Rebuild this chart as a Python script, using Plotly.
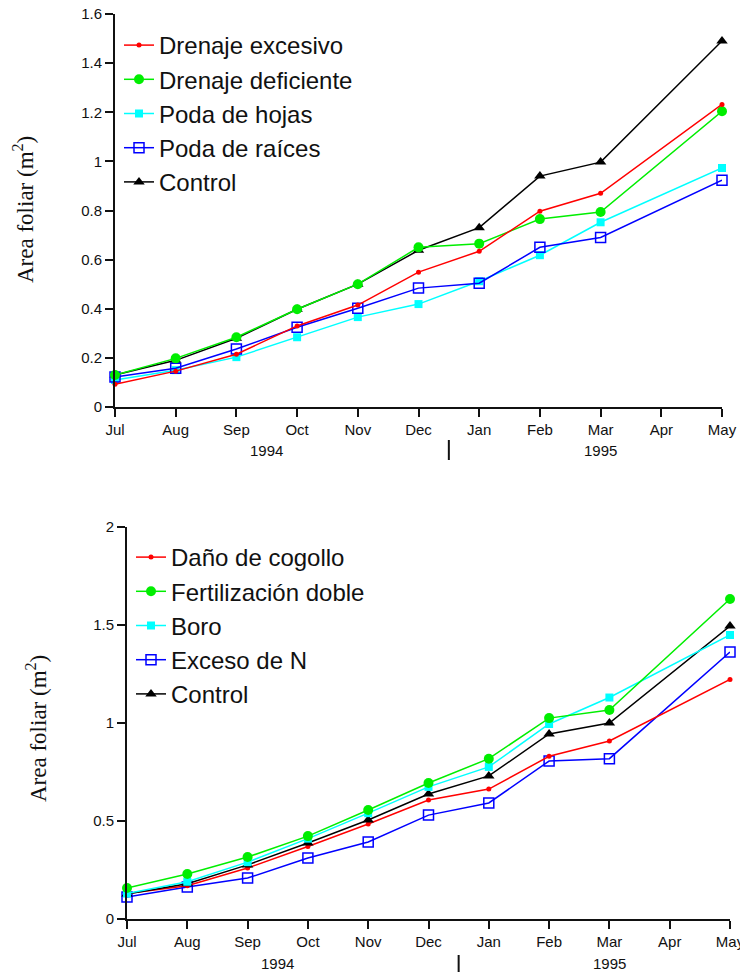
import plotly.graph_objects as go

months = ["Jul", "Aug", "Sep", "Oct", "Nov", "Dec", "Jan", "Feb", "Mar", "Apr", "May"]
years = ["1994", "1995"]

# Top chart series (None = no measurement in April)
drenaje_excesivo = [0.093, 0.146, 0.215, 0.33, 0.415, 0.549, 0.634, 0.797, 0.87, None, 1.232]
drenaje_deficiente = [0.13, 0.198, 0.284, 0.398, 0.5, 0.65, 0.665, 0.765, 0.794, None, 1.204]
poda_hojas = [0.11, 0.15, 0.203, 0.284, 0.366, 0.419, 0.512, 0.618, 0.752, None, 0.973]
poda_raices = [0.122, 0.158, 0.236, 0.325, 0.402, 0.484, 0.504, 0.65, 0.69, None, 0.923]
control_top = [0.13, 0.19, 0.28, 0.398, 0.5, 0.638, 0.73, 0.94, 0.997, None, 1.49]

# Bottom chart series
dano_cogollo = [0.13, 0.17, 0.26, 0.37, 0.485, 0.607, 0.663, 0.83, 0.908, None, 1.222]
fert_doble = [0.158, 0.23, 0.316, 0.423, 0.556, 0.694, 0.818, 1.025, 1.066, None, 1.633]
boro = [0.13, 0.19, 0.29, 0.41, 0.54, 0.674, 0.776, 0.995, 1.13, None, 1.449]
exceso_n = [0.112, 0.163, 0.209, 0.311, 0.393, 0.53, 0.592, 0.806, 0.818, None, 1.362]
control_bot = [0.128, 0.18, 0.276, 0.388, 0.505, 0.638, 0.73, 0.944, 1.0, None, 1.495]

xi = list(range(len(months)))

W, H = 740, 975
def px_x(p): return p / W
def px_y(p): return 1 - p / H

fig = go.Figure()

def add(name, vals, color, symbol, size, xa, ya, legend, rank, open_=False):
    mk = dict(symbol=symbol, size=size, color=color)
    if open_:
        mk = dict(symbol=symbol, size=size, color=color, line=dict(color=color, width=1.5))
    fig.add_trace(go.Scatter(
        x=xi, y=vals, name=name, mode="lines+markers", connectgaps=True,
        line=dict(color=color, width=1.5), marker=mk, cliponaxis=False,
        xaxis=xa, yaxis=ya, legend=legend, legendrank=rank))

# top chart (drawing order differs from legend order)
add("Control", control_top, "#000000", "triangle-up", 10, "x", "y", "legend", 5)
add("Poda de hojas", poda_hojas, "#00ffff", "square", 8, "x", "y", "legend", 3)
add("Poda de raíces", poda_raices, "#0000ff", "square-open", 10, "x", "y", "legend", 4, open_=True)
add("Drenaje deficiente", drenaje_deficiente, "#00ee00", "circle", 10, "x", "y", "legend", 2)
add("Drenaje excesivo", drenaje_excesivo, "#ff0000", "circle", 5, "x", "y", "legend", 1)

# bottom chart
add("Exceso de N", exceso_n, "#0000ff", "square-open", 10, "x2", "y2", "legend2", 4, open_=True)
add("Daño de cogollo", dano_cogollo, "#ff0000", "circle", 5, "x2", "y2", "legend2", 1)
add("Control", control_bot, "#000000", "triangle-up", 10, "x2", "y2", "legend2", 5)
add("Boro", boro, "#00ffff", "square", 8, "x2", "y2", "legend2", 3)
add("Fertilización doble", fert_doble, "#00ee00", "circle", 10, "x2", "y2", "legend2", 2)

tickfont = dict(family="Arial, Liberation Sans", size=15, color="#111111")
axis_common = dict(showgrid=False, zeroline=False, showline=True, linecolor="#111111", linewidth=2,
                   ticks="outside", ticklen=8, tickwidth=1.5, tickcolor="#111111", tickfont=tickfont,
                   automargin=False)

legfont = dict(family="Arial, Liberation Sans", size=24, color="#111111")
fig.update_layout(
    template="none",
    width=W, height=H, margin=dict(l=0, r=0, t=0, b=0, autoexpand=False),
    paper_bgcolor="white", plot_bgcolor="white",
    xaxis=dict(domain=[px_x(115), px_x(722)], range=[0, 10], tickvals=xi, ticktext=months,
               anchor="y", ticklabeloverflow="allow", **axis_common),
    yaxis=dict(domain=[px_y(407), px_y(14)], range=[0, 1.6], dtick=0.2, anchor="x", **axis_common),
    xaxis2=dict(domain=[px_x(127), px_x(730)], range=[0, 10], tickvals=xi, ticktext=months,
                anchor="y2", ticklabeloverflow="allow", **axis_common),
    yaxis2=dict(domain=[px_y(919), px_y(527)], range=[0, 2], dtick=0.5, anchor="x2", **axis_common),
    legend=dict(x=px_x(119), y=px_y(23), xanchor="left", yanchor="top", font=legfont,
                bgcolor="rgba(0,0,0,0)", traceorder="normal", borderwidth=0),
    legend2=dict(x=px_x(131), y=px_y(535), xanchor="left", yanchor="top", font=legfont,
                 bgcolor="rgba(0,0,0,0)", traceorder="normal", borderwidth=0),
    showlegend=True,
)

title_font = dict(family="Times New Roman, Liberation Serif", size=23, color="#111111")
ann_common = dict(showarrow=False, xanchor="center", yanchor="middle")
ann = [
    dict(text="Area foliar (m<sup>2</sup>)", x=px_x(23), y=px_y(210), xref="paper", yref="paper",
         textangle=-90, font=title_font, **ann_common),
    dict(text="Area foliar (m<sup>2</sup>)", x=px_x(36), y=px_y(729), xref="paper", yref="paper",
         textangle=-90, font=title_font, **ann_common),
    dict(text=years[0], x=2.5, y=px_y(451), xref="x", yref="paper", font=tickfont, **ann_common),
    dict(text=years[1], x=8, y=px_y(451), xref="x", yref="paper", font=tickfont, **ann_common),
    dict(text=years[0], x=2.5, y=px_y(963), xref="x2", yref="paper", font=tickfont, **ann_common),
    dict(text=years[1], x=8, y=px_y(963), xref="x2", yref="paper", font=tickfont, **ann_common),
]
fig.update_layout(annotations=ann)
fig.add_shape(type="line", xref="x", yref="paper", x0=5.5, x1=5.5, y0=px_y(460), y1=px_y(440),
              line=dict(color="#111111", width=2))
fig.add_shape(type="line", xref="x2", yref="paper", x0=5.5, x1=5.5, y0=px_y(972), y1=px_y(955),
              line=dict(color="#111111", width=2))

fig.write_html("out.html")
